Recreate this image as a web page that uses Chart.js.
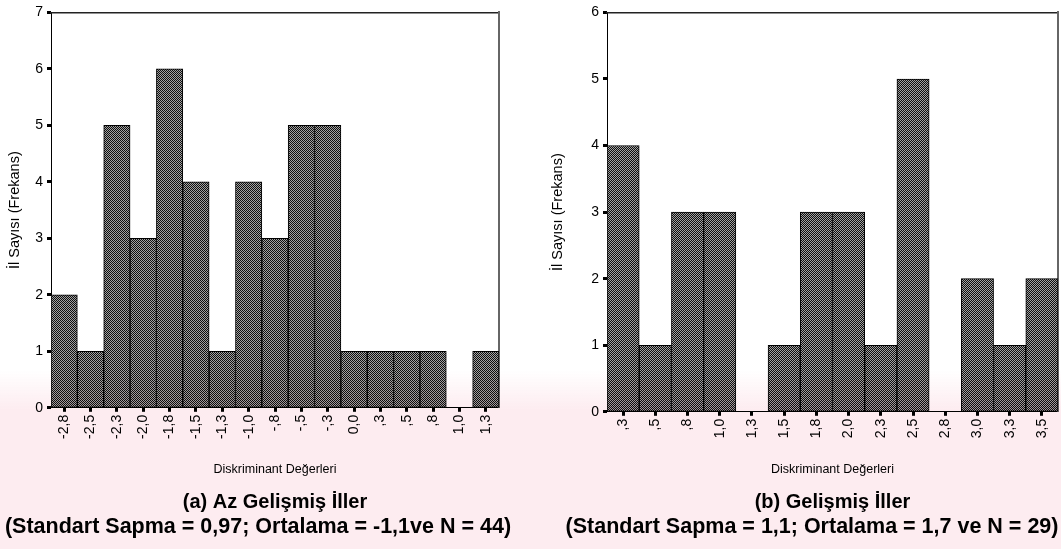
<!DOCTYPE html>
<html><head><meta charset="utf-8">
<script src="https://cdn.jsdelivr.net/npm/chart.js@4/dist/chart.umd.min.js"></script>
<style>
html,body{margin:0;padding:0;background:#fff;width:1061px;height:549px;overflow:hidden;position:relative}
canvas{position:absolute;top:0}
#c1{left:0}
#c2{left:545px}
#wm{position:absolute;left:0;top:370px;width:1061px;height:179px;
  background:linear-gradient(to bottom, rgba(253,236,240,0) 0px, #fdecf0 40px, #fdecf0 179px);
  mix-blend-mode:multiply;pointer-events:none}
</style></head><body>
<canvas id="c1" width="516" height="549"></canvas>
<canvas id="c2" width="534" height="549"></canvas>
<div id="wm"></div>
<script>
// ---- data ----
const catsA = ['-2,8','-2,5','-2,3','-2,0','-1,8','-1,5','-1,3','-1,0','-,8','-,5','-,3','0,0',',3',',5',',8','1,0','1,3'];
const valsA = [2,1,5,3,6,4,1,4,3,5,5,1,1,1,1,0,1];
const yMaxA = 7;
const catsB = [',3',',5',',8','1,0','1,3','1,5','1,8','2,0','2,3','2,5','2,8','3,0','3,3','3,5'];
const valsB = [4,1,3,3,0,1,3,3,1,5,0,2,1,2];
const yMaxB = 6;
const xTitle = 'Diskriminant Değerleri';
const yTitle = 'İl Sayısı (Frekans)';
const subA = '(a) Az Gelişmiş İller';
const statA = '(Standart Sapma = 0,97; Ortalama = -1,1ve N = 44)';
const subB = '(b) Gelişmiş İller';
const statB = '(Standart Sapma = 1,1; Ortalama = 1,7 ve N = 29)';

const FONT = "'Liberation Sans', Arial, sans-serif";

function makePattern(ctx){
  const p = document.createElement('canvas'); p.width = 2; p.height = 2;
  const c = p.getContext('2d');
  c.fillStyle = '#a2a2a2'; c.fillRect(0,0,2,2);
  c.fillStyle = '#0e0e0e'; c.fillRect(0,0,1,1); c.fillRect(1,1,1,1);
  return ctx.createPattern(p, 'repeat');
}

function build(id, cats, vals, yMax, o){
  const cv = document.getElementById(id);
  const ctx = cv.getContext('2d');
  return new Chart(ctx, {
    type: 'bar',
    data: { labels: cats, datasets: [{
      data: vals, backgroundColor: makePattern(ctx), borderColor: '#000', borderWidth: 1,
      borderSkipped: false, barPercentage: 1, categoryPercentage: 1
    }]},
    options: {
      responsive: false, animation: false, devicePixelRatio: 1,
      layout: { padding: { top: o.top, left: 0, right: 0, bottom: 0 } },
      plugins: {
        legend: { display: false }, tooltip: { enabled: false },
        subtitle: { display: true, text: o.sub, position: 'bottom', fullSize: false, color: '#000',
          font: { family: FONT, size: 20, weight: 'bold' }, padding: { top: 0, bottom: 0 } },
        title: { display: true, text: o.stat, position: 'bottom', fullSize: true, color: '#000',
          font: { family: FONT, size: 21.5, weight: 'bold' }, padding: { top: 0, bottom: 9 } }
      },
      scales: {
        x: {
          position: 'bottom',
          grid: { display: true, drawOnChartArea: false, drawTicks: true, offset: false, tickLength: 4, tickWidth: 3, tickColor: '#000' },
          border: { display: true, color: '#000', width: 1 },
          ticks: { minRotation: 90, maxRotation: 90, autoSkip: false, color: '#000', padding: 3, font: { family: FONT, size: 14 } },
          title: { display: true, text: xTitle, color: '#000', font: { family: FONT, size: 12.5 }, padding: { top: 0, bottom: 13 } },
          afterFit: s => { s.height = o.xH; }
        },
        y: {
          min: 0, max: yMax,
          grid: { display: true, drawOnChartArea: false, drawTicks: true, tickLength: 4, tickWidth: 3, tickColor: '#000' },
          border: { display: true, color: '#000', width: 1 },
          ticks: { stepSize: 1, color: '#000', padding: 4, font: { family: FONT, size: 14 } },
          title: { display: true, text: yTitle, color: '#000', font: { family: FONT, size: 14.5 }, padding: { top: o.yTitlePad, bottom: 0 } },
          afterFit: s => { s.width = o.yW; }
        },
        xTop: {
          type: 'linear', position: 'top', display: true,
          grid: { drawOnChartArea: false, drawTicks: false },
          border: { display: true, color: '#222', width: 1.5 },
          ticks: { display: false },
          afterFit: s => { s.height = 0; }
        },
        yR: {
          type: 'linear', position: 'right', display: true,
          grid: { drawOnChartArea: false, drawTicks: false },
          border: { display: true, color: '#666', width: 2 },
          ticks: { display: false },
          afterFit: s => { s.width = o.rW; }
        }
      }
    }
  });
}

build('c1', catsA, valsA, yMaxA, { top: 8, xH: 82.4, yW: 51, rW: 17, yTitlePad: 6, sub: subA, stat: statA });
build('c2', catsB, valsB, yMaxB, { top: 7, xH: 78.4, yW: 62, rW: 21, yTitlePad: 4, sub: subB, stat: statB });
</script>
</body></html>
